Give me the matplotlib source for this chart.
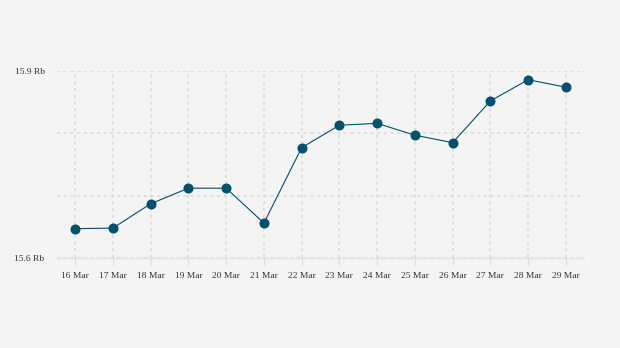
import matplotlib
matplotlib.use("Agg")
import matplotlib.pyplot as plt

# Data
dates = ["16 Mar", "17 Mar", "18 Mar", "19 Mar", "20 Mar", "21 Mar", "22 Mar",
         "23 Mar", "24 Mar", "25 Mar", "26 Mar", "27 Mar", "28 Mar", "29 Mar"]
values = [15.647, 15.648, 15.687, 15.712, 15.712, 15.656, 15.777,
          15.813, 15.816, 15.797, 15.785, 15.852, 15.886, 15.874]
y_ticks = [15.6, 15.7, 15.8, 15.9]
y_labels = ["15.6 Rb", "", "", "15.9 Rb"]

plt.rcParams["font.family"] = ["Liberation Serif", "DejaVu Serif"]

bg = "#f4f4f4"
line_color = "#00516b"

fig = plt.figure(figsize=(6.2, 3.48), dpi=100, facecolor=bg)
ax = fig.add_axes([0.092, 0.2586, 0.850, 0.5374], facecolor=bg)

x = list(range(len(dates)))
ax.plot(x, values, color=line_color, linewidth=0.8, marker="o",
        markersize=6.2, markerfacecolor=line_color, markeredgecolor=line_color,
        zorder=3)

ax.set_xlim(-0.48, len(dates) - 1 + 0.48)
ax.set_ylim(15.6, 15.9)
ax.set_xticks(x)
ax.set_xticklabels(dates)
ax.set_yticks(y_ticks)
ax.set_yticklabels(y_labels)

ax.grid(True, color="#dcdcdc", linestyle=(0, (2, 2)), linewidth=1.2, zorder=0)
for side in ["top", "right", "left"]:
    ax.spines[side].set_visible(False)
ax.spines["bottom"].set_color("#e2e2e2")
ax.spines["bottom"].set_linewidth(1.0)

ax.tick_params(axis="x", length=5, color="#dcdcdc", pad=5,
               labelsize=6.8, labelcolor="#333333")
ax.tick_params(axis="y", length=0, pad=9, labelsize=6.8, labelcolor="#333333")

fig.savefig("out.png", dpi=100, facecolor=bg)
